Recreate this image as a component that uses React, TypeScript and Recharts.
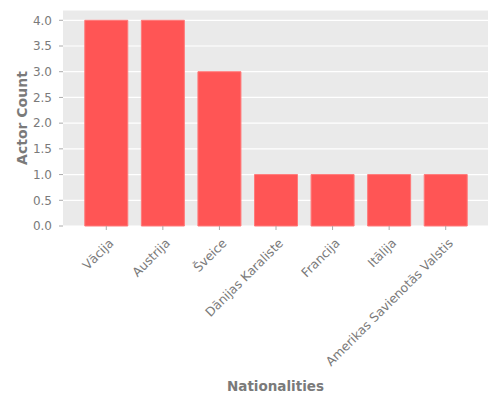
import React from 'react';
import { BarChart, Bar, XAxis, YAxis, CartesianGrid, Label } from 'recharts';

const nationalities = [
    'Vācija',
    'Austrija',
    'Šveice',
    'Dānijas Karaliste',
    'Francija',
    'Itālija',
    'Amerikas Savienotās Valstis',
];
const actorCounts = [4, 4, 3, 1, 1, 1, 1];
const yTicks = [0, 0.5, 1, 1.5, 2, 2.5, 3, 3.5, 4];

const data = nationalities.map((name, i) => ({ name, count: actorCounts[i] }));

const FONT = '"DejaVu Sans", sans-serif';
const TEXT_GRAY = '#7a7a7a';

// rotated category label, ending just right of the tick
const RotatedTick = (props: any) => {
    const { x, y, payload } = props;
    return (
        <g transform={`translate(${x + 8},${y + 12})`}>
            <text
                x={0}
                y={0}
                textAnchor="end"
                transform="rotate(-45)"
                fill={TEXT_GRAY}
                fontSize={12.4}
                fontFamily={FONT}
            >
                {payload.value}
            </text>
        </g>
    );
};

export default function App() {
    return (
        <div style={{ position: 'absolute', top: 0, left: 0, width: 500, height: 400, background: '#fff' }}>
            <BarChart
                width={500}
                height={400}
                data={data}
                margin={{ top: 10, right: 12, left: 0, bottom: 0 }}
                barCategoryGap="12%"
            >
                <CartesianGrid vertical={false} stroke="#ffffff" strokeWidth={1.2} fill="#EAEAEA" />
                <XAxis
                    dataKey="name"
                    interval={0}
                    height={174}
                    padding={{ left: 15, right: 14 }}
                    axisLine={false}
                    tickSize={4}
                    tickLine={{ stroke: '#aaaaaa' }}
                    tick={<RotatedTick />}
                >
                    <Label
                        value="Nationalities"
                        position="center"
                        dy={73}
                        style={{ fill: TEXT_GRAY, fontSize: 13.5, fontWeight: 'bold', fontFamily: FONT }}
                    />
                </XAxis>
                <YAxis
                    width={63}
                    domain={[0, 4.2]}
                    ticks={yTicks}
                    tickFormatter={(v: number) => v.toFixed(1)}
                    axisLine={false}
                    tickSize={4}
                    tickMargin={7}
                    tickLine={{ stroke: '#aaaaaa' }}
                    tick={{ fill: TEXT_GRAY, fontSize: 12, fontFamily: FONT }}
                >
                    <Label
                        value="Actor Count"
                        position="center"
                        angle={-90}
                        dx={-9}
                        style={{ fill: TEXT_GRAY, fontSize: 14, fontWeight: 'bold', fontFamily: FONT, textAnchor: 'middle' }}
                    />
                </YAxis>
                <Bar
                    dataKey="count"
                    fill="#FF5555"
                    stroke="#ff7a7a"
                    strokeWidth={1}
                    isAnimationActive={false}
                />
            </BarChart>
        </div>
    );
}
